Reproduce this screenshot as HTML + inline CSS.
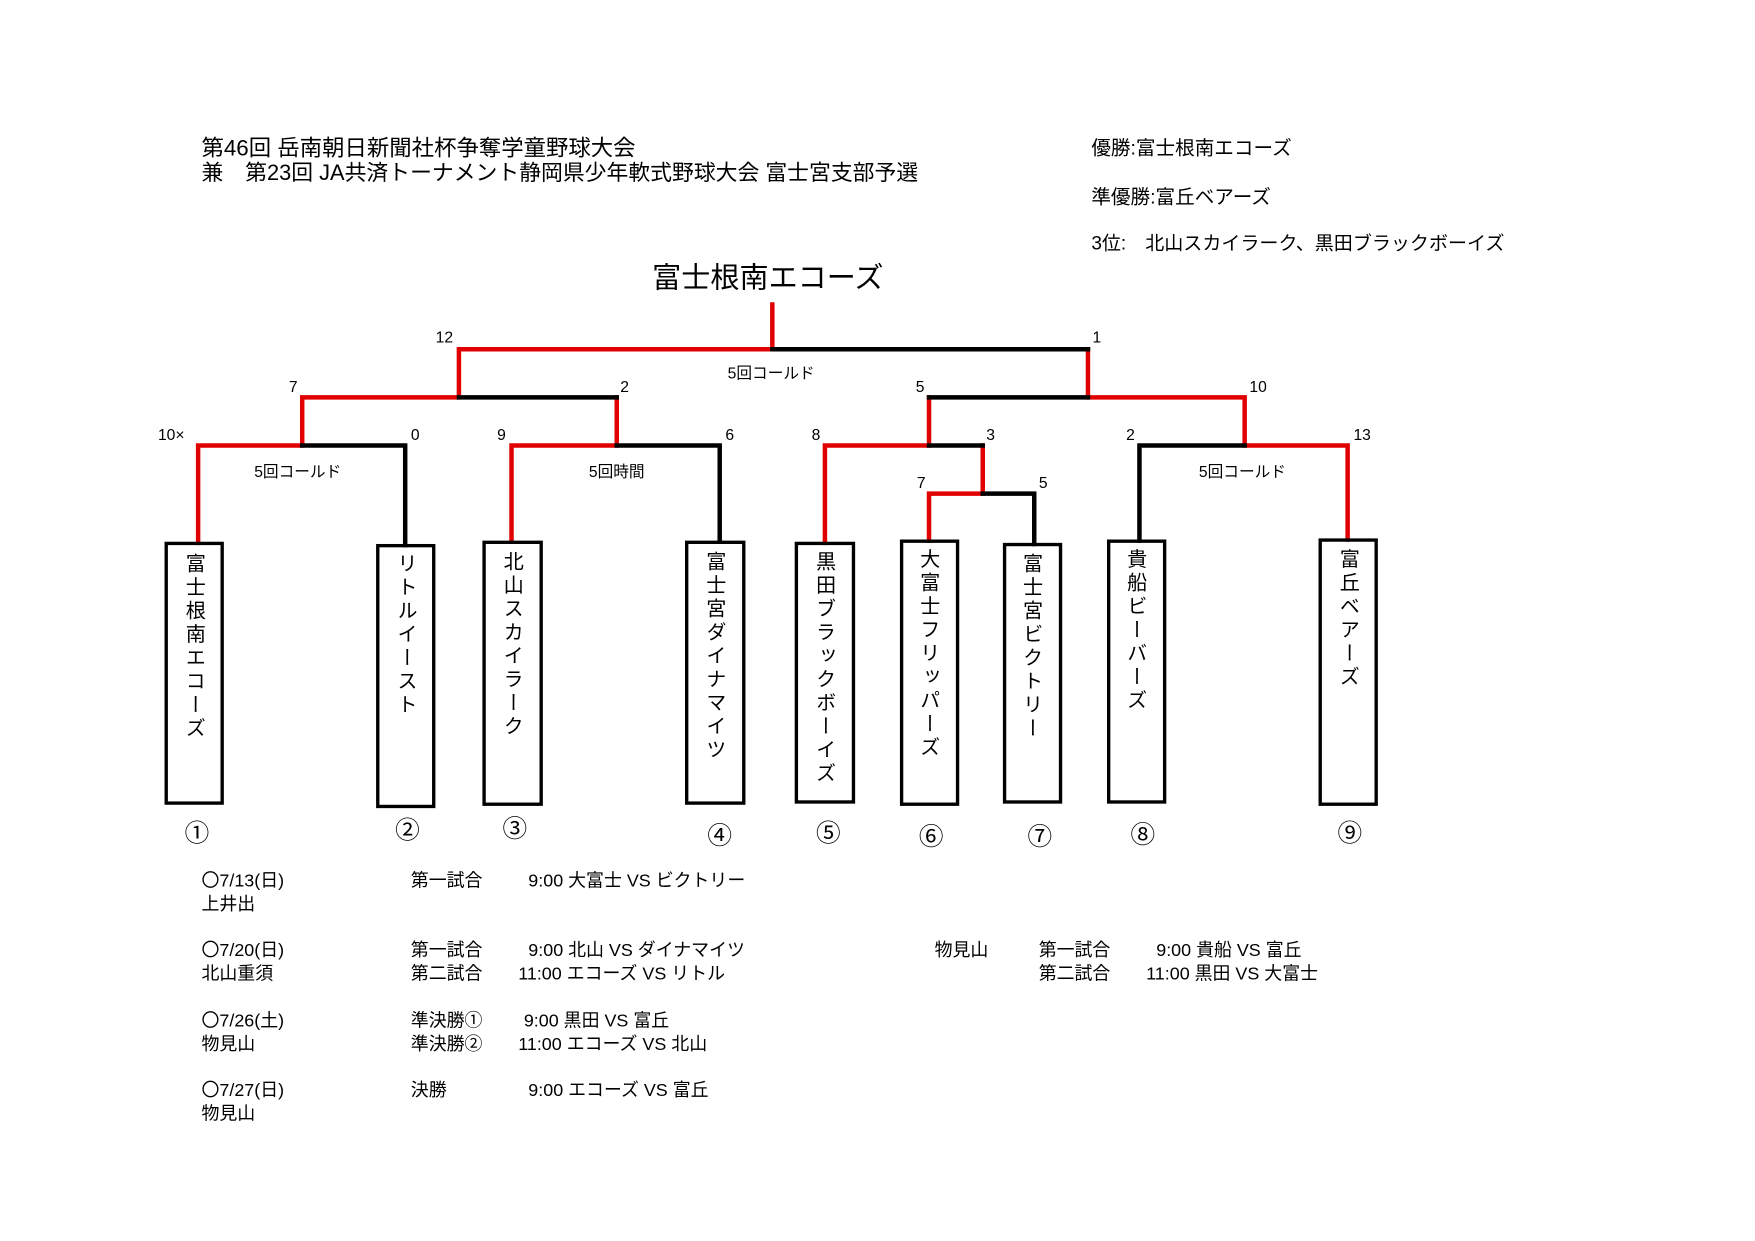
<!DOCTYPE html>
<html><head><meta charset="utf-8">
<style>
html,body{margin:0;padding:0;background:#fff;}
body{width:1755px;height:1241px;overflow:hidden;position:relative;}
#w{position:absolute;left:0;top:0;width:1568px;height:1109px;transform:scale(1.1193);transform-origin:0 0;font-family:"Liberation Sans","Noto Sans CJK JP",sans-serif;color:#000;}
.t{position:absolute;white-space:nowrap;line-height:1;}
.c{position:absolute;white-space:nowrap;line-height:1;transform:translate(-50%,-50%);}
.s{font-size:14px;}
.box{position:absolute;border:3px solid #000;box-sizing:border-box;}
.v{position:absolute;writing-mode:vertical-rl;text-orientation:upright;font-size:18px;letter-spacing:3px;line-height:1;transform:translateX(-50%);}
.n{font-size:22px;}
.f{font-size:16px;}
#sch{position:absolute;left:0;top:3px;width:1568px;height:1100px;}
</style></head><body><div id="w">
<svg width="1568" height="1109" style="position:absolute;left:0;top:0" stroke-width="4" fill="none" stroke-linecap="square">
<g stroke="#e00000">
<path d="M690 272V312M410 312H690M410 312V355M270 355H410M972 312V355M972 355H1112M270 355V398M177 398H270M177 398V485M551 355V398M457 398H551M457 398V484M830 355V398M737 398H830M737 398V485M878 398V441M830 441H878M830 441V483M1112 355V398M1112 398H1204M1204 398V482"/>
</g>
<g stroke="#000">
<path d="M690 312H972M410 355H551M830 355H972M270 398H362M362 398V487M551 398H643M643 398V484M830 398H878M878 441H924M924 441V486M1018 398H1112M1018 398V483"/>
</g>
</svg>
<div class="t" style="left:180px;top:123px;font-size:20px">第46回 岳南朝日新聞社杯争奪学童野球大会</div>
<div class="t" style="left:180px;top:146px;font-size:19.5px">兼　第23回 JA共済トーナメント静岡県少年軟式野球大会 富士宮支部予選</div>
<div class="t" style="left:975px;top:124px;font-size:17.5px">優勝:富士根南エコーズ</div>
<div class="t" style="left:975px;top:168px;font-size:17.5px">準優勝:富丘ベアーズ</div>
<div class="t" style="left:975px;top:209px;font-size:17px">3位:　北山スカイラーク、黒田ブラックボーイズ</div>
<div class="c" style="left:686px;top:248px;font-size:26px">富士根南エコーズ</div>

<div class="c s" style="left:397px;top:301px">12</div>
<div class="c s" style="left:980px;top:301px">1</div>
<div class="c s" style="left:689px;top:333px">5回コールド</div>
<div class="c s" style="left:262px;top:345px">7</div>
<div class="c s" style="left:558px;top:345px">2</div>
<div class="c s" style="left:822px;top:345px">5</div>
<div class="c s" style="left:1124px;top:345px">10</div>
<div class="c s" style="left:153px;top:388px">10×</div>
<div class="c s" style="left:371px;top:388px">0</div>
<div class="c s" style="left:448px;top:388px">9</div>
<div class="c s" style="left:652px;top:388px">6</div>
<div class="c s" style="left:729px;top:388px">8</div>
<div class="c s" style="left:885px;top:388px">3</div>
<div class="c s" style="left:1010px;top:388px">2</div>
<div class="c s" style="left:1217px;top:388px">13</div>
<div class="c s" style="left:266px;top:421px">5回コールド</div>
<div class="c s" style="left:551px;top:421px">5回時間</div>
<div class="c s" style="left:1110px;top:421px">5回コールド</div>
<div class="c s" style="left:823px;top:431px">7</div>
<div class="c s" style="left:932px;top:431px">5</div>

<div class="box" style="left:147px;top:484px;width:53px;height:235px"></div>
<div class="box" style="left:336px;top:486px;width:53px;height:236px"></div>
<div class="box" style="left:431px;top:483px;width:54px;height:237px"></div>
<div class="box" style="left:612px;top:483px;width:54px;height:236px"></div>
<div class="box" style="left:710px;top:484px;width:54px;height:234px"></div>
<div class="box" style="left:804px;top:482px;width:53px;height:238px"></div>
<div class="box" style="left:896px;top:485px;width:53px;height:233px"></div>
<div class="box" style="left:989px;top:482px;width:53px;height:236px"></div>
<div class="box" style="left:1178px;top:481px;width:53px;height:239px"></div>

<div class="v" style="left:174px;top:494px">富士根南エコーズ</div>
<div class="v" style="left:363px;top:494px">リトルイースト</div>
<div class="v" style="left:458px;top:492px">北山スカイラーク</div>
<div class="v" style="left:639px;top:492px">富士宮ダイナマイツ</div>
<div class="v" style="left:737px;top:492px">黒田ブラックボーイズ</div>
<div class="v" style="left:830px;top:490px">大富士フリッパーズ</div>
<div class="v" style="left:922px;top:494px">富士宮ビクトリー</div>
<div class="v" style="left:1015px;top:490px">貴船ビーバーズ</div>
<div class="v" style="left:1205px;top:490px">富丘ベアーズ</div>

<div class="c n" style="left:176px;top:745px">①</div>
<div class="c n" style="left:364px;top:742px">②</div>
<div class="c n" style="left:460px;top:741px">③</div>
<div class="c n" style="left:643px;top:747px">④</div>
<div class="c n" style="left:740px;top:745px">⑤</div>
<div class="c n" style="left:832px;top:748px">⑥</div>
<div class="c n" style="left:929px;top:748px">⑦</div>
<div class="c n" style="left:1021px;top:746px">⑧</div>
<div class="c n" style="left:1206px;top:745px">⑨</div>

<div id="sch">
<div class="t f" style="left:180px;top:777px">〇7/13(日)</div>
<div class="t f" style="left:180px;top:798px">上井出</div>
<div class="t f" style="left:367px;top:777px">第一試合</div>
<div class="t f" style="left:472px;top:777px">9:00 大富士 VS ビクトリー</div>

<div class="t f" style="left:180px;top:839px">〇7/20(日)</div>
<div class="t f" style="left:180px;top:860px">北山重須</div>
<div class="t f" style="left:367px;top:839px">第一試合</div>
<div class="t f" style="left:367px;top:860px">第二試合</div>
<div class="t f" style="left:472px;top:839px">9:00 北山 VS ダイナマイツ</div>
<div class="t f" style="left:463px;top:860px">11:00 エコーズ VS リトル</div>
<div class="t f" style="left:835px;top:839px">物見山</div>
<div class="t f" style="left:928px;top:839px">第一試合</div>
<div class="t f" style="left:928px;top:860px">第二試合</div>
<div class="t f" style="left:1033px;top:839px">9:00 貴船 VS 富丘</div>
<div class="t f" style="left:1024px;top:860px">11:00 黒田 VS 大富士</div>

<div class="t f" style="left:180px;top:902px">〇7/26(土)</div>
<div class="t f" style="left:180px;top:923px">物見山</div>
<div class="t f" style="left:367px;top:902px">準決勝①</div>
<div class="t f" style="left:367px;top:923px">準決勝②</div>
<div class="t f" style="left:468px;top:902px">9:00 黒田 VS 富丘</div>
<div class="t f" style="left:463px;top:923px">11:00 エコーズ VS 北山</div>

<div class="t f" style="left:180px;top:964px">〇7/27(日)</div>
<div class="t f" style="left:180px;top:985px">物見山</div>
<div class="t f" style="left:367px;top:964px">決勝</div>
<div class="t f" style="left:472px;top:964px">9:00 エコーズ VS 富丘</div>
</div>
</div></body></html>
